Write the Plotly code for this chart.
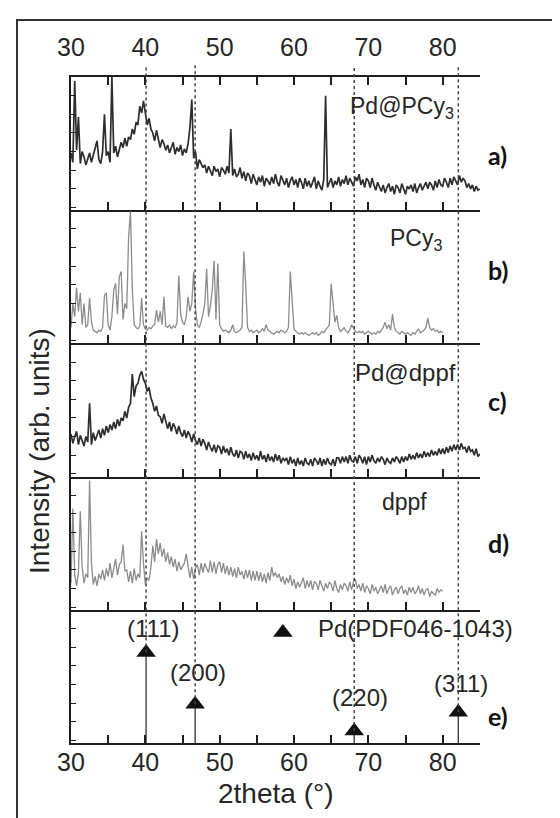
import numpy as np
import plotly.graph_objects as go
from plotly.subplots import make_subplots

STEP = 0.25  # 2theta sampling of the traces (deg)

# a) Pd@PCy3, 30..85 deg (relative intensity, % of panel height)
pd_pcy3 = [
    43, 36, 97, 45,   # 30
    70, 35, 44, 40,   # 31
    34, 39, 43, 36,   # 32
    41, 46, 52, 38,   # 33
    35, 44, 72, 41,   # 34
    44, 36, 100, 43,  # 35
    48, 40, 45, 51,   # 36
    47, 54, 48, 55,   # 37
    53, 61, 57, 66,   # 38
    64, 78, 73, 82,   # 39
    73, 64, 69, 61,   # 40
    58, 52, 60, 54,   # 41
    47, 53, 50, 45,   # 42
    49, 43, 47, 51,   # 43
    42, 47, 44, 49,   # 44
    41, 46, 43, 50,   # 45
    62, 83, 39, 44,   # 46
    31, 38, 35, 32,   # 47
    34, 28, 33, 30,   # 48
    26, 33, 29, 31,   # 49
    25, 32, 30, 27,   # 50
    33, 28, 61, 26,   # 51
    31, 25, 27, 32,   # 52
    24, 29, 22, 28,   # 53
    26, 20, 27, 23,   # 54
    19, 25, 21, 26,   # 55
    18, 24, 22, 19,   # 56
    25, 20, 27, 21,   # 57
    18, 26, 23, 19,   # 58
    24, 17, 22, 25,   # 59
    19, 23, 17, 24,   # 60
    21, 16, 24, 18,   # 61
    22, 17, 21, 25,   # 62
    16, 22, 18, 15,   # 63
    23, 86, 17, 21,   # 64
    24, 17, 22, 19,   # 65
    25, 18, 23, 20,   # 66
    26, 19, 24, 21,   # 67
    18, 25, 22, 27,   # 68
    19, 23, 17, 24,   # 69
    22, 17, 24, 19,   # 70
    15, 21, 18, 14,   # 71
    19, 13, 17, 20,   # 72
    14, 18, 12, 19,   # 73
    17, 13, 20, 15,   # 74
    12, 18, 16, 19,   # 75
    14, 20, 13, 17,   # 76
    20, 15, 18, 21,   # 77
    16, 21, 19, 15,   # 78
    22, 17, 23, 19,   # 79
    18, 24, 21, 17,   # 80
    24, 19, 25, 22,   # 81
    19, 26, 21, 24,   # 82
    22, 17, 20, 16,   # 83
    19, 14, 18, 15,   # 84
    16,               # 85
]

# b) PCy3, 30..80 deg
pcy3 = [
    12, 30, 20, 42,   # 30
    24, 38, 14, 30,   # 31
    12, 14, 34, 16,   # 32
    10, 9, 8, 10,     # 33
    9, 12, 36, 38,    # 34
    14, 10, 20, 40,   # 35
    45, 22, 50, 54,   # 36
    18, 30, 26, 80,   # 37
    99, 40, 14, 12,   # 38
    11, 13, 34, 14,   # 39
    11, 10, 12, 11,   # 40
    13, 14, 25, 16,   # 41
    24, 14, 35, 13,   # 42
    12, 14, 11, 13,   # 43
    12, 15, 51, 22,   # 44
    16, 14, 20, 35,   # 45
    24, 30, 54, 26,   # 46
    14, 12, 16, 22,   # 47
    30, 56, 20, 28,   # 48
    40, 62, 18, 60,   # 49
    14, 11, 9, 10,    # 50
    9, 8, 10, 14,     # 51
    9, 8, 9, 10,      # 52
    12, 69, 44, 12,   # 53
    9, 10, 8, 9,      # 54
    10, 8, 9, 11,     # 55
    9, 14, 10, 9,     # 56
    8, 7, 8, 9,       # 57
    8, 10, 9, 8,      # 58
    9, 12, 54, 30,    # 59
    11, 9, 8, 7,      # 60
    8, 7, 8, 7,       # 61
    6, 7, 8, 7,       # 62
    8, 6, 7, 9,       # 63
    8, 10, 12, 14,    # 64
    45, 30, 16, 21,   # 65
    12, 9, 10, 12,    # 66
    9, 8, 10, 14,     # 67
    11, 9, 8, 9,      # 68
    8, 9, 7, 8,       # 69
    9, 8, 7, 8,       # 70
    7, 9, 8, 10,      # 71
    12, 16, 11, 14,   # 72
    10, 22, 12, 9,    # 73
    8, 7, 9, 8,       # 74
    7, 8, 7, 6,       # 75
    8, 7, 9, 11,      # 76
    8, 9, 10, 12,     # 77
    19, 12, 10, 11,   # 78
    9, 10, 8, 9,      # 79
    8,                # 80
]

# c) Pd@dppf, 30..85 deg
pd_dppf = [
    32, 25, 30, 34,   # 30
    24, 31, 27, 23,   # 31
    30, 26, 55, 24,   # 32
    33, 27, 31, 35,   # 33
    29, 36, 31, 38,   # 34
    33, 39, 35, 41,   # 35
    36, 43, 38, 44,   # 36
    42, 49, 44, 52,   # 37
    55, 77, 60, 68,   # 38
    70, 76, 79, 73,   # 39
    70, 64, 67, 59,   # 40
    55, 49, 53, 46,   # 41
    45, 40, 47, 42,   # 42
    36, 41, 34, 40,   # 43
    37, 32, 38, 33,   # 44
    30, 35, 29, 34,   # 45
    31, 26, 32, 27,   # 46
    24, 29, 23, 28,   # 47
    25, 20, 26, 22,   # 48
    19, 24, 18, 23,   # 49
    22, 17, 23, 18,   # 50
    21, 16, 22, 17,   # 51
    15, 20, 14, 19,   # 52
    18, 13, 19, 14,   # 53
    17, 12, 18, 13,   # 54
    16, 12, 19, 13,   # 55
    16, 11, 17, 12,   # 56
    15, 11, 17, 12,   # 57
    16, 10, 14, 12,   # 58
    14, 9, 15, 10,    # 59
    13, 8, 14, 9,     # 60
    12, 8, 14, 10,    # 61
    9, 13, 8, 14,     # 62
    12, 9, 14, 8,     # 63
    13, 9, 14, 10,    # 64
    9, 13, 8, 14,     # 65
    14, 10, 15, 11,   # 66
    15, 10, 16, 12,   # 67
    11, 15, 10, 16,   # 68
    14, 10, 15, 9,    # 69
    15, 11, 16, 12,   # 70
    10, 14, 11, 15,   # 71
    13, 9, 14, 11,    # 72
    10, 14, 11, 15,   # 73
    13, 10, 15, 11,   # 74
    15, 12, 17, 13,   # 75
    16, 13, 18, 14,   # 76
    17, 14, 19, 15,   # 77
    18, 15, 20, 16,   # 78
    19, 16, 21, 17,   # 79
    21, 17, 22, 18,   # 80
    23, 19, 24, 20,   # 81
    24, 20, 25, 21,   # 82
    22, 18, 23, 19,   # 83
    20, 16, 21, 15,   # 84
    17,               # 85
]

# d) dppf, 30..80 deg
dppf = [
    20, 76, 26, 18,   # 30
    28, 74, 32, 20,   # 31
    27, 24, 97, 35,   # 32
    19, 25, 18, 27,   # 33
    23, 30, 22, 31,   # 34
    25, 35, 24, 32,   # 35
    38, 26, 34, 36,   # 36
    49, 29, 30, 21,   # 37
    29, 20, 31, 22,   # 38
    27, 24, 59, 35,   # 39
    19, 24, 22, 32,   # 40
    48, 36, 53, 42,   # 41
    50, 40, 46, 36,   # 42
    43, 34, 40, 32,   # 43
    38, 29, 36, 30,   # 44
    33, 35, 42, 34,   # 45
    24, 32, 23, 31,   # 46
    34, 26, 35, 28,   # 47
    35, 31, 28, 37,   # 48
    28, 36, 27, 34,   # 49
    36, 28, 35, 27,   # 50
    33, 26, 32, 25,   # 51
    31, 24, 32, 26,   # 52
    29, 23, 30, 24,   # 53
    30, 22, 29, 22,   # 54
    29, 22, 28, 21,   # 55
    27, 20, 28, 22,   # 56
    32, 25, 28, 24,   # 57
    27, 21, 25, 19,   # 58
    24, 20, 26, 18,   # 59
    23, 16, 21, 17,   # 60
    20, 24, 16, 22,   # 61
    17, 22, 15, 21,   # 62
    20, 15, 22, 17,   # 63
    14, 20, 16, 21,   # 64
    19, 14, 22, 16,   # 65
    13, 19, 15, 20,   # 66
    18, 14, 21, 15,   # 67
    21, 23, 16, 19,   # 68
    14, 20, 13, 18,   # 69
    16, 12, 19, 14,   # 70
    17, 12, 15, 18,   # 71
    13, 19, 12, 16,   # 72
    18, 11, 15, 17,   # 73
    12, 16, 18, 12,   # 74
    15, 11, 17, 13,   # 75
    17, 12, 14, 18,   # 76
    12, 16, 11, 15,   # 77
    16, 10, 14, 12,   # 78
    11, 16, 13, 15,   # 79
    14,               # 80
]

# e) Pd reference pattern (PDF046-1043)
ref_pos = [40.1, 46.7, 68.1, 82.1]
ref_int = [68, 29, 9, 23]
ref_hkl = ["(111)", "(200)", "(220)", "(311)"]
hkl_x = [41.0, 47.1, 68.9, 82.45]
hkl_y = [86, 53, 34.5, 45]

x_ticks = [30, 40, 50, 60, 70, 80]
panel_tags = ["a)", "b)", "c)", "d)", "e)"]


def grid(vals):
    return 30 + STEP * np.arange(len(vals))


FONT = "Liberation Sans, Arial, sans-serif"
TXT = "#262626"
AX = "#1e1e1e"

fig = make_subplots(rows=5, cols=1, vertical_spacing=0)

dark = dict(color="#2e2e2e", width=1.7)
light = dict(color="#8c8c8c", width=1.3)
fig.add_trace(go.Scatter(x=grid(pd_pcy3), y=pd_pcy3, mode="lines", line=dark), row=1, col=1)
fig.add_trace(go.Scatter(x=grid(pcy3), y=pcy3, mode="lines", line=light), row=2, col=1)
fig.add_trace(go.Scatter(x=grid(pd_dppf), y=pd_dppf, mode="lines", line=dark), row=3, col=1)
fig.add_trace(go.Scatter(x=grid(dppf), y=dppf, mode="lines", line=light), row=4, col=1)

# stems and triangles of the reference pattern
sx, sy = [], []
for p, h in zip(ref_pos, ref_int):
    sx += [p, p, None]
    sy += [0, h, None]
fig.add_trace(go.Scatter(x=sx, y=sy, mode="lines", line=dict(color="#333", width=1.3)), row=5, col=1)
fig.add_trace(go.Scatter(x=ref_pos, y=ref_int, mode="markers",
                         marker=dict(symbol="triangle-up", size=17, color="#111")), row=5, col=1)
# legend symbol
fig.add_trace(go.Scatter(x=[58.5], y=[83], mode="markers",
                         marker=dict(symbol="triangle-up", size=17, color="#111")), row=5, col=1)
for t, xx, yy in zip(ref_hkl, hkl_x, hkl_y):
    fig.add_annotation(x=xx, y=yy, xref="x5", yref="y5", text=t, showarrow=False,
                       font=dict(family=FONT, size=24, color=TXT), xanchor="center", yanchor="middle")
fig.add_annotation(x=62.95, y=86, xref="x5", yref="y5", text="Pd(PDF046-1043)", showarrow=False,
                   font=dict(family=FONT, size=24, color=TXT), xanchor="left", yanchor="middle")

# series names
names = [("Pd@PCy<sub>3</sub>", 67.25, 77, 1, 23),
         ("PCy<sub>3</sub>", 72.6, 78, 2, 23),
         ("Pd@dppf", 67.9, 78.5, 3, 24),
         ("dppf", 71.55, 81, 4, 23)]
for t, xx, yy, r, fs in names:
    sfx = "" if r == 1 else str(r)
    fig.add_annotation(x=xx, y=yy, xref="x" + sfx, yref="y" + sfx, text=t, showarrow=False,
                       font=dict(family=FONT, size=fs, color=TXT), xanchor="left", yanchor="middle")

# axes
L, R, T, B = 63, 88, 69, 83
W, H = 560, 818
pw, ph = W - L - R, H - T - B

for i in range(1, 6):
    fig.update_xaxes(row=i, col=1, range=[30, 85.02], showline=True, linewidth=2, linecolor=AX,
                     ticks="inside", ticklen=8, tickwidth=1.6, tickcolor=AX,
                     tickmode="array", tickvals=x_ticks, showgrid=False, zeroline=False,
                     minor=dict(ticks="inside", ticklen=8, tickwidth=1.6, tickcolor=AX,
                                tickmode="linear", tick0=35, dtick=10),
                     showticklabels=(i == 5), ticklabelstandoff=-4,
                     tickfont=dict(family=FONT, size=25, color=TXT))
    fig.update_yaxes(row=i, col=1, range=[0, 100], showline=True, linewidth=2, linecolor=AX,
                     ticks="inside", ticklen=5, tickwidth=1.3, tickcolor=AX,
                     tickmode="linear", tick0=2, dtick=14, showticklabels=False,
                     showgrid=False, zeroline=False)

# top axis of the first panel
fig.add_trace(go.Scatter(x=[None], y=[None], xaxis="x6", yaxis="y", showlegend=False))
fig.update_layout(xaxis6=dict(overlaying="x", side="top", anchor="y", range=[30, 85.02],
                              showline=True, linewidth=2, linecolor=AX,
                              ticks="inside", ticklen=8, tickwidth=1.6, tickcolor=AX,
                              tickmode="array", tickvals=x_ticks, showgrid=False, zeroline=False,
                              minor=dict(ticks="inside", ticklen=8, tickwidth=1.6, tickcolor=AX,
                                         tickmode="linear", tick0=35, dtick=10),
                              ticklabelstandoff=9,
                              tickfont=dict(family=FONT, size=25, color=TXT)))

# dotted guide lines at the Pd reflections
shapes = []
for p, h in zip(ref_pos, ref_int):
    shapes.append(dict(type="line", xref="x", yref="paper", x0=p, x1=p,
                       y0=0.2 * h / 100, y1=1.018,
                       line=dict(color="#444", width=1.5, dash="dot"), layer="above"))
# outer frame
shapes.append(dict(type="rect", xref="paper", yref="paper",
                   x0=(9 - L) / pw, x1=1.5, y0=-0.3, y1=(H - B - 12) / ph,
                   line=dict(color="#333", width=2), fillcolor="rgba(0,0,0,0)"))

# panel tags
tag_y = [147, 262, 393, 535, 708]
for t, ypx in zip(panel_tags, tag_y):
    fig.add_annotation(x=(478 - L) / pw, y=(H - B - ypx) / ph, xref="paper", yref="paper",
                       text="<b>" + t + "</b>", showarrow=False, xanchor="left", yanchor="middle",
                       font=dict(family="Lato, Liberation Sans, sans-serif", size=25, color="#111"))

# axis titles
fig.add_annotation(x=(267 - L) / pw, y=(H - B - 785) / ph, xref="paper", yref="paper",
                   text="2theta (°)", showarrow=False, xanchor="center", yanchor="middle",
                   font=dict(family=FONT, size=28, color=TXT))
fig.add_annotation(x=(31 - L) / pw, y=(H - B - 443) / ph, xref="paper", yref="paper",
                   text="Intensity (arb. units)", showarrow=False, textangle=-90,
                   xanchor="center", yanchor="middle",
                   font=dict(family=FONT, size=28, color=TXT))

fig.update_layout(width=W, height=H, margin=dict(l=L, r=R, t=T, b=B),
                  paper_bgcolor="white", plot_bgcolor="white", showlegend=False,
                  shapes=shapes)

fig.write_html("out.html")
